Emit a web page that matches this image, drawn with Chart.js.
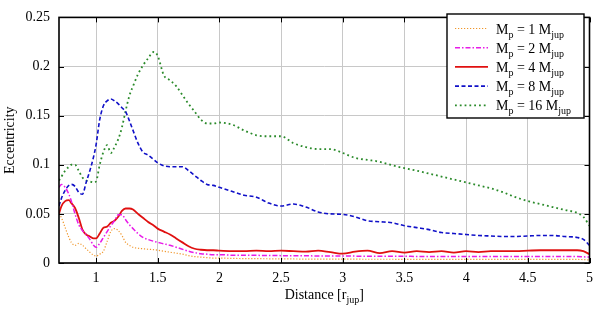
<!DOCTYPE html>
<html>
<head>
<meta charset="utf-8">
<script src="https://cdn.jsdelivr.net/npm/chart.js@4"></script>
<style>
html,body{margin:0;padding:0;background:#fff;}
#wrap{position:relative;width:600px;height:309px;}
</style>
</head>
<body>
<div id="wrap"><canvas id="c" width="600" height="309"></canvas></div>
<script>
// ---- data ----
const distance = [0.70,0.72,0.75,0.78,0.80,0.83,0.86,0.89,0.92,0.95,0.98,1.00,1.03,1.06,1.09,1.12,1.15,1.18,1.21,1.24,1.27,1.30,1.34,1.38,1.42,1.47,1.50,1.55,1.60,1.65,1.70,1.75,1.80,1.85,1.90,1.95,2.00,2.10,2.20,2.30,2.40,2.50,2.60,2.70,2.80,2.90,3.00,3.10,3.20,3.30,3.40,3.50,3.60,3.70,3.80,3.90,4.00,4.10,4.20,4.30,4.40,4.50,4.60,4.70,4.80,4.90,4.95,5.00];

const eccM1 = [0.050,0.046,0.036,0.026,0.021,0.018,0.020,0.018,0.0145,0.011,0.008,0.007,0.009,0.012,0.022,0.032,0.035,0.033,0.028,0.021,0.018,0.016,0.015,0.0145,0.014,0.0135,0.013,0.012,0.011,0.010,0.009,0.0075,0.0065,0.006,0.0055,0.005,0.005,0.0047,0.0045,0.0044,0.0043,0.0042,0.0041,0.004,0.004,0.004,0.0039,0.0039,0.0038,0.0038,0.0038,0.0037,0.0037,0.0037,0.0037,0.0037,0.0037,0.0037,0.0037,0.0037,0.0037,0.0037,0.0037,0.0037,0.0037,0.0036,0.0035,0.003];

const eccM2 = [0.077,0.080,0.077,0.070,0.063,0.050,0.039,0.033,0.029,0.024,0.018,0.016,0.020,0.026,0.032,0.038,0.043,0.049,0.049,0.044,0.039,0.035,0.030,0.026,0.024,0.022,0.021,0.0195,0.018,0.016,0.014,0.012,0.0105,0.0095,0.009,0.0085,0.0085,0.008,0.008,0.0078,0.0076,0.0075,0.0074,0.0073,0.0072,0.0071,0.007,0.007,0.0069,0.0069,0.0068,0.0068,0.0067,0.0067,0.0067,0.0066,0.0066,0.0066,0.0066,0.0066,0.0066,0.0066,0.0066,0.0066,0.0066,0.0065,0.0063,0.006];

const eccM4 = [0.050,0.058,0.063,0.064,0.061,0.056,0.046,0.034,0.029,0.027,0.025,0.025,0.030,0.036,0.037,0.041,0.043,0.047,0.053,0.0555,0.0555,0.0545,0.050,0.046,0.042,0.038,0.035,0.032,0.029,0.025,0.021,0.017,0.0145,0.0135,0.013,0.013,0.0125,0.012,0.012,0.0125,0.012,0.0125,0.012,0.0115,0.0125,0.011,0.0095,0.0115,0.0125,0.010,0.012,0.0105,0.012,0.011,0.012,0.0105,0.012,0.011,0.012,0.012,0.012,0.0125,0.013,0.013,0.013,0.013,0.012,0.009];

const eccM8 = [0.058,0.066,0.074,0.079,0.080,0.078,0.072,0.070,0.082,0.094,0.108,0.120,0.146,0.160,0.165,0.167,0.165,0.162,0.158,0.154,0.145,0.135,0.122,0.113,0.110,0.105,0.102,0.099,0.098,0.098,0.098,0.094,0.089,0.084,0.080,0.079,0.077,0.073,0.069,0.067,0.061,0.058,0.060,0.057,0.052,0.050,0.0495,0.047,0.043,0.042,0.041,0.038,0.036,0.034,0.031,0.030,0.029,0.028,0.0275,0.027,0.027,0.0275,0.028,0.028,0.027,0.026,0.024,0.018];

const eccM16 = [0.084,0.088,0.094,0.098,0.100,0.100,0.094,0.087,0.084,0.083,0.082,0.083,0.100,0.113,0.120,0.112,0.118,0.126,0.138,0.155,0.170,0.180,0.192,0.201,0.208,0.215,0.211,0.191,0.186,0.180,0.171,0.162,0.154,0.146,0.142,0.142,0.143,0.141,0.135,0.130,0.129,0.129,0.122,0.118,0.116,0.116,0.112,0.107,0.105,0.103,0.0995,0.0965,0.094,0.091,0.088,0.085,0.082,0.079,0.076,0.072,0.067,0.063,0.060,0.057,0.054,0.051,0.047,0.038];

const massLabels = ['1','2','4','8','16'];
const xTickValues = [1,1.5,2,2.5,3,3.5,4,4.5,5];
const xTickLabels = ['1','1.5','2','2.5','3','3.5','4','4.5','5'];
const yTickValues = [0,0.05,0.1,0.15,0.2,0.25];
const yTickLabels = ['0','0.05','0.1','0.15','0.2','0.25'];
const xTitle = 'Distance [r';
const xTitleSub = 'jup';
const yTitle = 'Eccentricity';

// ---- styles ----
const SERIF = '"Liberation Serif","DejaVu Serif",serif';
const styles = [
  {color:'#f0962a', width:1.2, dash:[1.2,1.8]},
  {color:'#e81ce8', width:1.5, dash:[5,2,1.5,2]},
  {color:'#e01010', width:1.8, dash:[]},
  {color:'#1010c8', width:1.6, dash:[4,2.5]},
  {color:'#2a8a2a', width:1.8, dash:[1.8,3]}
];
const seriesValues = [eccM1, eccM2, eccM4, eccM8, eccM16];

const datasets = seriesValues.map((vals, i) => ({
  label: 'Mp = ' + massLabels[i] + ' Mjup',
  data: distance.map((d, k) => ({x: d, y: vals[k]})),
  borderColor: styles[i].color,
  borderWidth: styles[i].width,
  borderDash: styles[i].dash,
  pointRadius: 0,
  fill: false,
  cubicInterpolationMode: 'monotone'
}));

function drawSubText(ctx, x, y, parts) {
  // parts: [[text, isSub], ...]
  let cx = x;
  parts.forEach(([t, sub]) => {
    ctx.font = (sub ? '10px ' : '14px ') + SERIF;
    ctx.fillText(t, cx, sub ? y + 4 : y);
    cx += ctx.measureText(t).width;
  });
  return cx - x;
}
function measureSubText(ctx, parts) {
  let w = 0;
  parts.forEach(([t, sub]) => {
    ctx.font = (sub ? '10px ' : '14px ') + SERIF;
    w += ctx.measureText(t).width;
  });
  return w;
}

const decor = {
  id: 'decor',
  afterDatasetsDraw(chart) {
    const {ctx, chartArea: a, scales} = chart;
    ctx.save();
    // inward ticks
    ctx.strokeStyle = '#000';
    ctx.lineWidth = 1;
    const tl = 5;
    xTickValues.forEach(v => {
      const px = Math.round(scales.x.getPixelForValue(v)) + 0.5;
      ctx.beginPath();
      ctx.moveTo(px, a.bottom); ctx.lineTo(px, a.bottom - tl);
      ctx.moveTo(px, a.top); ctx.lineTo(px, a.top + tl);
      ctx.stroke();
    });
    yTickValues.forEach(v => {
      const py = Math.round(scales.y.getPixelForValue(v)) + 0.5;
      ctx.beginPath();
      ctx.moveTo(a.left, py); ctx.lineTo(a.left + tl, py);
      ctx.moveTo(a.right, py); ctx.lineTo(a.right - tl, py);
      ctx.stroke();
    });
    // frame
    ctx.lineWidth = 1.6;
    ctx.strokeRect(a.left, a.top, a.right - a.left, a.bottom - a.top);

    // axis titles
    ctx.fillStyle = '#000';
    ctx.textBaseline = 'alphabetic';
    const parts = [[xTitle, false], [xTitleSub, true], [']', false]];
    const w = measureSubText(ctx, parts);
    drawSubText(ctx, (a.left + a.right) / 2 - w / 2, 299, parts);

    ctx.save();
    ctx.translate(14, (a.top + a.bottom) / 2);
    ctx.rotate(-Math.PI / 2);
    ctx.font = '14px ' + SERIF;
    ctx.textAlign = 'center';
    ctx.fillText(yTitle, 0, 0);
    ctx.restore();

    // legend
    const lx = 447, ly = 14, lw = 137, lh = 104;
    ctx.fillStyle = '#fff';
    ctx.fillRect(lx, ly, lw, lh);
    ctx.strokeStyle = '#000';
    ctx.lineWidth = 1.4;
    ctx.strokeRect(lx, ly, lw, lh);
    chart.data.datasets.forEach((ds, i) => {
      const cy = 28.5 + i * 19.2;
      ctx.save();
      ctx.strokeStyle = ds.borderColor;
      ctx.lineWidth = ds.borderWidth;
      ctx.setLineDash(ds.borderDash);
      ctx.beginPath();
      ctx.moveTo(455, cy); ctx.lineTo(488, cy);
      ctx.stroke();
      ctx.restore();
      ctx.fillStyle = '#000';
      ctx.textAlign = 'left';
      drawSubText(ctx, 496, cy + 5, [['M', false], ['p', true], [' = ' + massLabels[i] + ' M', false], ['jup', true]]);
    });
    ctx.restore();
  }
};

new Chart(document.getElementById('c'), {
  type: 'line',
  data: {datasets},
  options: {
    responsive: false,
    animation: false,
    devicePixelRatio: 1,
    layout: {padding: {left: 0, right: 7, top: 9, bottom: 0}},
    plugins: {legend: {display: false}, tooltip: {enabled: false}},
    scales: {
      x: {
        type: 'linear', min: 0.7, max: 5,
        afterBuildTicks: s => { s.ticks = xTickValues.map(v => ({value: v})); },
        afterFit: s => { s.height = 46; },
        ticks: {
          callback: (v, i) => xTickLabels[i],
          color: '#000', padding: 7, maxRotation: 0, autoSkip: false,
          font: {family: SERIF, size: 14}
        },
        grid: {color: '#c8c8c8', lineWidth: 1, drawTicks: false},
        border: {display: false}
      },
      y: {
        type: 'linear', min: 0, max: 0.25,
        afterBuildTicks: s => { s.ticks = yTickValues.map(v => ({value: v})); },
        afterFit: s => { s.width = 59; },
        ticks: {
          callback: (v, i) => yTickLabels[i],
          color: '#000', padding: 9, autoSkip: false,
          font: {family: SERIF, size: 14}
        },
        grid: {color: '#c8c8c8', lineWidth: 1, drawTicks: false},
        border: {display: false}
      }
    }
  },
  plugins: [decor]
});
</script>
</body>
</html>
